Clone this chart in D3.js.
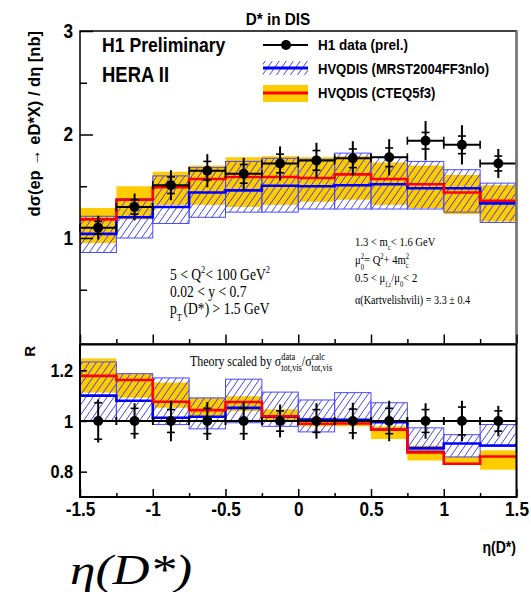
<!DOCTYPE html>
<html><head><meta charset="utf-8">
<script src="https://cdn.jsdelivr.net/npm/d3@7"></script>
<style>body{margin:0;background:#fff} svg{display:block}</style>
</head><body>
<svg id="c" width="531" height="592"></svg>
<script>
// ---------- data ----------
const binEdges = [-1.5,-1.25,-1,-0.75,-0.5,-0.25,0,0.25,0.5,0.75,1,1.25,1.5];
const binCenters = [-1.375,-1.125,-0.875,-0.625,-0.375,-0.125,0.125,0.375,0.625,0.875,1.125,1.375];

// top panel: d sigma / d eta [nb]
const dataXsec     = [1.10,1.30,1.51,1.65,1.62,1.72,1.75,1.77,1.78,1.94,1.90,1.72];
const dataXsecTot  = [0.115,0.13,0.145,0.16,0.155,0.165,0.17,0.165,0.175,0.19,0.19,0.14];
const dataXsecStat = [0.06,0.07,0.08,0.09,0.09,0.09,0.095,0.09,0.09,0.08,0.085,0.072];

const mrstXsec   = [1.04,1.20,1.30,1.44,1.46,1.505,1.50,1.51,1.52,1.48,1.48,1.335];
const mrstXsecHi = [1.21,1.38,1.60,1.68,1.74,1.77,1.76,1.82,1.78,1.74,1.66,1.53];
const mrstXsecLo = [0.86,1.00,1.14,1.20,1.25,1.25,1.28,1.28,1.28,1.28,1.25,1.15];

const cteqXsec   = [1.18,1.37,1.49,1.57,1.59,1.59,1.58,1.615,1.57,1.52,1.44,1.36];
const cteqXsecHi = [1.29,1.50,1.64,1.70,1.78,1.79,1.78,1.79,1.73,1.70,1.61,1.51];
const cteqXsecLo = [0.95,1.18,1.32,1.32,1.30,1.32,1.35,1.37,1.32,1.29,1.23,1.16];

// bottom panel: ratio R
const dataRatio     = [1,1,1,1,1,1,1,1,1,1,1,1];
const dataRatioTot  = [0.085,0.07,0.08,0.075,0.075,0.065,0.07,0.072,0.08,0.07,0.08,0.06];
const dataRatioStat = [0.072,0.05,0.045,0.05,0.05,0.04,0.045,0.047,0.05,0.045,0.055,0.04];

const mrstRatio   = [1.10,1.08,1.013,1.017,1.052,1.017,1.006,1.005,0.995,0.893,0.911,0.903];
const mrstRatioHi = [1.233,1.187,1.170,1.091,1.165,1.114,1.083,1.112,1.072,0.973,0.946,0.986];
const mrstRatioLo = [1.002,1.002,0.986,0.969,0.993,0.979,0.957,0.99,0.970,0.885,0.858,0.900];

const cteqRatio   = [1.178,1.162,1.076,1.043,1.075,1.019,0.989,0.99,0.966,0.876,0.831,0.86];
const cteqRatioHi = [1.247,1.187,1.152,1.092,1.098,1.046,1.013,1.003,0.979,0.903,0.860,0.884];
const cteqRatioLo = [1.112,1.092,1.052,1.019,1.039,0.999,0.979,0.979,0.929,0.844,0.827,0.808];

const topTicksMajor = [1,2,3];
const topTicksMinor = [0.5,1.5,2.5];
const ratioTicks = [0.8,1,1.2];
const xTicksMajor = [-1.5,-1,-0.5,0,0.5,1,1.5];
const xTicksMinor = [-1.25,-0.75,-0.25,0.25,0.75,1.25];

// ---------- setup ----------
const svg = d3.select('#c');
const L = 80, R = 516.5;
const x  = d3.scaleLinear().domain([-1.5,1.5]).range([L,R]);
const yT = d3.scaleLinear().domain([0,3]).range([341.5,31]);
const yB = d3.scaleLinear().domain([0.7,1.3]).range([497,345]);

const SANS = "'Liberation Sans', Arial, sans-serif";
const SERIF = "'Liberation Serif', 'Times New Roman', serif";
const YEL = '#ffcc00', RED = '#ff0000', BLUE = '#0000ff', HATCH = '#2c2cff';

const defs = svg.append('defs');
const pat = defs.append('pattern').attr('id','hatch').attr('patternUnits','userSpaceOnUse')
  .attr('width',7).attr('height',10);
pat.append('path').attr('d','M-1.4,12 L8.4,-2 M-8.4,12 L1.4,-2 M5.6,12 L15.4,-2')
  .attr('stroke',HATCH).attr('stroke-width',0.9).attr('fill','none');
defs.append('clipPath').attr('id','clipT').append('rect').attr('x',L).attr('y',31).attr('width',R-L).attr('height',313);
defs.append('clipPath').attr('id','clipB').append('rect').attr('x',L).attr('y',345).attr('width',R-L).attr('height',152);

// rich text helper
function rich(parent, px, py, items, o) {
  const g = parent.append('g')
    .attr('transform', `translate(${px},${py}) scale(${o.sx||1},1)`)
    .attr('font-family', o.family).attr('font-weight', o.weight||'normal').attr('fill','#000');
  const s = o.size; let cx = 0;
  items.forEach(it => {
    if (typeof it === 'string') {
      const t = g.append('text').attr('x',cx).attr('y',0).attr('font-size',s).text(it);
      cx += t.node().getComputedTextLength();
    } else {
      const fs = s*(it.scale||0.62); let w = 0;
      if (it.sup) { const t = g.append('text').attr('x',cx).attr('y',-s*0.42).attr('font-size',fs).text(it.sup); w = Math.max(w,t.node().getComputedTextLength()); }
      if (it.sub) { const t = g.append('text').attr('x',cx).attr('y',s*(it.subDy||0.3)).attr('font-size',fs).text(it.sub); w = Math.max(w,t.node().getComputedTextLength()); }
      cx += w + (it.pad||0);
    }
  });
  return g;
}

function drawPanel(clipId, y, mHi, mLo, mC, cHi, cLo, cC, dV, dTot, dStat) {
  const g = svg.append('g').attr('clip-path',`url(#${clipId})`);
  const idx = d3.range(binCenters.length);
  // yellow band
  g.selectAll('rect.yel').data(idx).join('rect').attr('class','yel')
    .attr('x', i => x(binEdges[i])).attr('width', i => x(binEdges[i+1]) - x(binEdges[i]))
    .attr('y', i => y(cHi[i])).attr('height', i => y(cLo[i]) - y(cHi[i]))
    .attr('fill', YEL);
  // hatched band
  g.selectAll('rect.hat').data(idx).join('rect').attr('class','hat')
    .attr('x', i => x(binEdges[i])).attr('width', i => x(binEdges[i+1]) - x(binEdges[i]))
    .attr('y', i => y(mHi[i])).attr('height', i => y(mLo[i]) - y(mHi[i]))
    .attr('fill', 'url(#hatch)').attr('stroke','#4a4aff').attr('stroke-width',1);
  const step = vals => {
    const pts = idx.map(i => [binEdges[i], vals[i]]);
    pts.push([binEdges[binEdges.length-1], vals[vals.length-1]]);
    return d3.line().x(d => x(d[0])).y(d => y(d[1])).curve(d3.curveStepAfter)(pts);
  };
  g.append('path').attr('d', step(mC)).attr('fill','none').attr('stroke',BLUE).attr('stroke-width',2.6);
  g.append('path').attr('d', step(cC)).attr('fill','none').attr('stroke',RED).attr('stroke-width',2.6);
  // data
  const dg = svg.append('g');
  idx.forEach(i => {
    const cx = x(binCenters[i]), cy = y(dV[i]);
    const x0 = x(binEdges[i]), x1 = x(binEdges[i+1]);
    dg.append('line').attr('x1',x0).attr('x2',x1).attr('y1',cy).attr('y2',cy).attr('stroke','#000').attr('stroke-width',2);
    [x0,x1].forEach(xx => dg.append('line').attr('x1',xx).attr('x2',xx).attr('y1',cy-4).attr('y2',cy+4).attr('stroke','#000').attr('stroke-width',1.6));
    dg.append('line').attr('x1',cx).attr('x2',cx).attr('y1',y(dV[i]+dTot[i])).attr('y2',y(dV[i]-dTot[i])).attr('stroke','#000').attr('stroke-width',2);
    [dV[i]+dStat[i], dV[i]-dStat[i]].forEach(v => dg.append('line').attr('x1',cx-4).attr('x2',cx+4).attr('y1',y(v)).attr('y2',y(v)).attr('stroke','#000').attr('stroke-width',1.6));
    dg.append('circle').attr('cx',cx).attr('cy',cy).attr('r',5).attr('fill','#000');
  });
}

drawPanel('clipT', yT, mrstXsecHi, mrstXsecLo, mrstXsec, cteqXsecHi, cteqXsecLo, cteqXsec, dataXsec, dataXsecTot, dataXsecStat);
drawPanel('clipB', yB, mrstRatioHi, mrstRatioLo, mrstRatio, cteqRatioHi, cteqRatioLo, cteqRatio, dataRatio, dataRatioTot, dataRatioStat);

// ---------- frames ----------
svg.append('rect').attr('x',L).attr('y',31).attr('width',R-L).attr('height',313)
  .attr('fill','none').attr('stroke','#000').attr('stroke-width',1.5);
svg.append('line').attr('x1',R).attr('x2',R).attr('y1',31).attr('y2',344).attr('stroke','#777').attr('stroke-width',2.5);
svg.append('rect').attr('x',L).attr('y',344.5).attr('width',R-L).attr('height',152.5)
  .attr('fill','none').attr('stroke','#000').attr('stroke-width',2);

// ---------- axes ----------
function styleAxis(g) {
  g.select('.domain').remove();
  g.selectAll('.tick line').attr('stroke','#000').attr('stroke-width',1.5);
  g.selectAll('.tick text').attr('font-family',SANS).attr('font-weight','bold').attr('fill','#000');
}
// top panel y
svg.append('g').attr('transform',`translate(${L},0)`)
  .call(d3.axisLeft(yT).tickValues(topTicksMajor).tickSizeInner(-13).tickSizeOuter(0).tickPadding(8).tickFormat(d3.format('d')))
  .call(styleAxis)
  .call(g => g.selectAll('.tick text').attr('font-size',20).attr('transform','scale(0.86,1)'));
svg.append('g').attr('transform',`translate(${L},0)`)
  .call(d3.axisLeft(yT).tickValues(topTicksMinor).tickSizeInner(-7).tickSizeOuter(0).tickFormat(''))
  .call(styleAxis);
// top panel x ticks (no labels)
svg.append('g').attr('transform','translate(0,343.5)')
  .call(d3.axisBottom(x).tickValues(xTicksMajor).tickSizeInner(-9).tickSizeOuter(0).tickFormat(''))
  .call(styleAxis);
svg.append('g').attr('transform','translate(0,343.5)')
  .call(d3.axisBottom(x).tickValues(xTicksMinor).tickSizeInner(-4.5).tickSizeOuter(0).tickFormat(''))
  .call(styleAxis);
// bottom panel y
svg.append('g').attr('transform',`translate(${L},0)`)
  .call(d3.axisLeft(yB).tickValues(ratioTicks).tickSizeInner(-7).tickSizeOuter(0).tickPadding(8).tickFormat(d => d === 1 ? '1' : d3.format('.1f')(d)))
  .call(styleAxis)
  .call(g => g.selectAll('.tick text').attr('font-size',19).attr('transform','scale(0.86,1)'));
// bottom panel x
svg.append('g').attr('transform','translate(0,497)')
  .call(d3.axisBottom(x).tickValues(xTicksMajor).tickSizeInner(-8).tickSizeOuter(0).tickPadding(5).tickFormat(d => d === 0 ? '0' : String(d)))
  .call(styleAxis)
  .call(g => g.selectAll('.tick text').attr('font-size',20).attr('transform','scale(0.86,1)'));
svg.append('g').attr('transform','translate(0,497)')
  .call(d3.axisBottom(x).tickValues(xTicksMinor).tickSizeInner(-4).tickSizeOuter(0).tickFormat(''))
  .call(styleAxis);

// ---------- titles ----------
svg.append('text').attr('transform','translate(278,25) scale(0.9,1)').attr('text-anchor','middle')
  .attr('font-family',SANS).attr('font-weight','bold').attr('font-size',17).text('D* in DIS');
svg.append('text').attr('transform','translate(40,31) rotate(-90)').attr('text-anchor','end')
  .attr('font-family',SANS).attr('font-weight','bold').attr('font-size',16.5).text('dσ(ep → eD*X) / dη [nb]');
svg.append('text').attr('transform','translate(35,346) rotate(-90)').attr('text-anchor','end')
  .attr('font-family',SANS).attr('font-weight','bold').attr('font-size',15).text('R');
svg.append('text').attr('transform','translate(516,553) scale(0.88,1)').attr('text-anchor','end')
  .attr('font-family',SANS).attr('font-weight','bold').attr('font-size',16).text('η(D*)');
svg.append('text').attr('transform','translate(70,584) scale(1.22,1)')
  .attr('font-family',SERIF).attr('font-style','italic').attr('font-size',42).text('η(D*)');

rich(svg, 102, 52, ['H1 Preliminary'], {family:SANS, weight:'bold', size:21, sx:0.84});
rich(svg, 102, 82, ['HERA II'], {family:SANS, weight:'bold', size:22, sx:0.84});

// ---------- legend ----------
const lg = svg.append('g');
lg.append('line').attr('x1',263).attr('x2',308).attr('y1',45).attr('y2',45).attr('stroke','#000').attr('stroke-width',2);
lg.append('circle').attr('cx',286).attr('cy',45).attr('r',5).attr('fill','#000');
lg.append('rect').attr('x',263).attr('y',61).attr('width',45).attr('height',14).attr('fill','url(#hatch)');
lg.append('line').attr('x1',263).attr('x2',308).attr('y1',68).attr('y2',68).attr('stroke',BLUE).attr('stroke-width',3);
lg.append('rect').attr('x',263).attr('y',85).attr('width',45).attr('height',17).attr('fill',YEL);
lg.append('line').attr('x1',263).attr('x2',308).attr('y1',93).attr('y2',93).attr('stroke',RED).attr('stroke-width',3);
rich(lg, 318, 50, ['H1 data (prel.)'], {family:SANS, weight:'bold', size:15, sx:0.9});
rich(lg, 318, 74, ['HVQDIS (MRST2004FF3nlo)'], {family:SANS, weight:'bold', size:15, sx:0.87});
rich(lg, 318, 98, ['HVQDIS (CTEQ5f3)'], {family:SANS, weight:'bold', size:15, sx:0.87});

// ---------- annotations ----------
const ser = {family:SERIF, size:17, sx:0.8};
rich(svg, 170, 280, ['5 < Q', {sup:'2'}, ' < 100 GeV', {sup:'2'}], ser);
rich(svg, 170, 297, ['0.02 < y < 0.7'], ser);
rich(svg, 170, 314, ['p', {sub:'T', subDy:0.4, pad:2}, ' (D*) > 1.5 GeV'], ser);
const ser2 = {family:SERIF, size:12.5, sx:0.85};
rich(svg, 355, 246, ['1.3 < m', {sub:'c'}, ' < 1.6 GeV'], ser2);
rich(svg, 355, 264, ['μ', {sup:'2', sub:'0', subDy:0.45}, ' = Q', {sup:'2'}, ' + 4m', {sup:'2', sub:'c'}], ser2);
rich(svg, 355, 282, ['0.5 < μ', {sub:'f,r', subDy:0.4}, '/μ', {sub:'0', subDy:0.4}, ' < 2'], ser2);
rich(svg, 355, 304, ['α(Kartvelishvili) = 3.3 ± 0.4'], {family:SERIF, size:12, sx:0.85});
rich(svg, 190, 366, ['Theory scaled by σ', {sup:'data', sub:'tot,vis', scale:0.7, subDy:0.35}, '/σ', {sup:'calc', sub:'tot,vis', scale:0.7, subDy:0.35}],
  {family:SERIF, size:14, sx:0.85});
</script>
</body></html>
